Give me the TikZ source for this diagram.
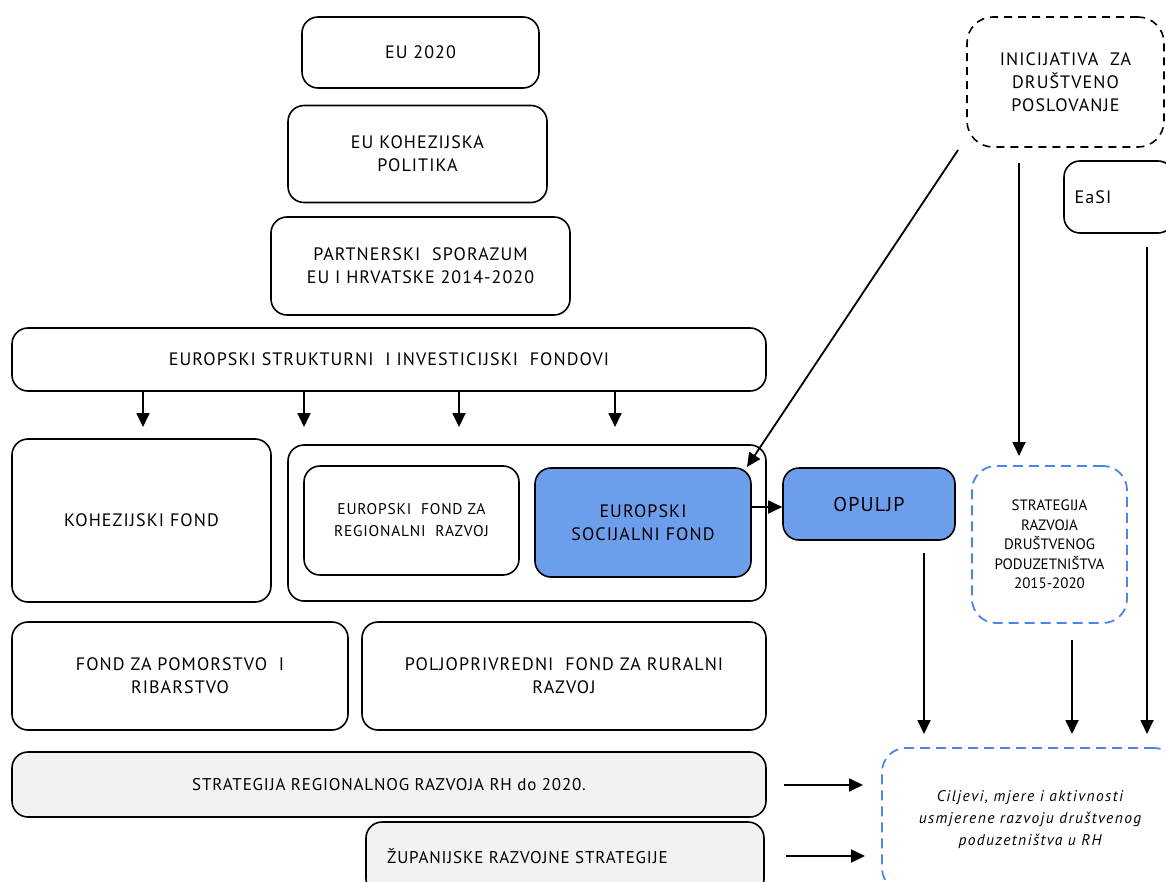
\documentclass[tikz,border=0pt]{standalone}
\usepackage{fontspec}
\setmainfont{PT Sans}
\newfontfamily\fwide[LetterSpace=6]{PT Sans}
\newfontfamily\fmed[LetterSpace=5]{PT Sans}
\newfontfamily\fital[LetterSpace=9]{PT Sans Italic}
\usetikzlibrary{arrows.meta,calc}
\definecolor{bluefill}{HTML}{6D9EEB}
\definecolor{bluedash}{HTML}{4A86E8}
\definecolor{grayfill}{HTML}{F2F2F2}
\begin{document}
\begin{tikzpicture}[x=1pt,y=-1pt,
  box/.style={draw=black,line width=1.6pt,rounded corners=16pt,inner sep=4pt,align=center,
    font=\fwide\fontsize{18}{23}\selectfont},
  smallbox/.style={box,font=\fmed\fontsize{15.5}{22}\selectfont},
  bluebox/.style={box,fill=bluefill},
  graybox/.style={box,fill=grayfill},
  bdash/.style={draw=bluedash,line width=1.8pt,dash pattern=on 10pt off 6pt,rounded corners=24pt,inner sep=4pt,align=center},
  kdash/.style={box,dash pattern=on 8pt off 6pt,rounded corners=26pt},
  arr/.style={line width=1.8pt,-{Triangle[length=14pt,width=13pt]}},
  txt/.style={inner sep=0pt,align=center,font=\fwide\fontsize{18}{23}\selectfont}
]
\useasboundingbox (0,0) rectangle (1166,882);
\clip (0,0) rectangle (1166,882);
\fill[white] (0,0) rectangle (1166,882);

\node[box,minimum width=237pt,minimum height=71pt] (eu) at (420.5,52.5) {EU 2020};
\node[box,minimum width=259pt,minimum height=97pt] (koh) at (417.5,154) {EU KOHEZIJSKA\\POLITIKA};
\node[box,minimum width=299pt,minimum height=98pt] (par) at (420.5,266) {PARTNERSKI \ SPORAZUM\\EU I HRVATSKE 2014-2020};
\node[box,minimum width=754pt,minimum height=63pt] (esif) at (389,359.5) {EUROPSKI STRUKTURNI \ I INVESTICIJSKI \ FONDOVI};

\node[box,minimum width=259pt,minimum height=163pt] (kf) at (141.5,520.5) {KOHEZIJSKI FOND};
\node[box,minimum width=478pt,minimum height=156pt] (cont) at (527,523) {};
\node[smallbox,minimum width=215pt,minimum height=109pt] (efrr) at (411.5,520.5) {EUROPSKI \ FOND ZA\\REGIONALNI \ RAZVOJ};
\node[bluebox,minimum width=216pt,minimum height=109pt] (esf) at (643,522.5) {EUROPSKI\\SOCIJALNI FOND};
\node[bluebox,minimum width=172pt,minimum height=72pt,font=\fwide\fontsize{20}{24}\selectfont] (op) at (869,504) {OPULJP};

\node[kdash,minimum width=197pt,minimum height=130pt] (ini) at (1065.5,82) {INICIJATIVA \ ZA\\DRUŠTVENO\\POSLOVANJE};
\node[box,minimum width=110pt,minimum height=72pt] (easi) at (1119,197) {};
\node[txt] (easit) at (1093,197) {EaSI};

\node[bdash,minimum width=155pt,minimum height=157pt,font=\fontsize{15}{19.5}\selectfont] (str) at (1049.5,544.5) {STRATEGIJA\\RAZVOJA\\DRUŠTVENOG\\PODUZETNIŠTVA\\2015-2020};

\node[box,minimum width=336pt,minimum height=108pt] (pom) at (180,676) {FOND ZA POMORSTVO \ I\\RIBARSTVO};
\node[box,minimum width=404pt,minimum height=108pt] (pol) at (564,676) {POLJOPRIVREDNI \ FOND ZA RURALNI\\RAZVOJ};

\node[graybox,minimum width=754pt,minimum height=65pt,font=\fmed\fontsize{17}{22}\selectfont] (srr) at (389,784.5) {STRATEGIJA REGIONALNOG RAZVOJA RH do 2020.};
\node[graybox,minimum width=398pt,minimum height=73pt] (zup) at (565,858.5) {};
\node[txt,anchor=west,font=\fmed\fontsize{17}{22}\selectfont] (zupt) at (387,856) {ŽUPANIJSKE RAZVOJNE STRATEGIJE};

\node[bdash,minimum width=296pt,minimum height=144pt,font=\fital\fontsize{15.5}{22}\selectfont] (cil) at (1030,820) {Ciljevi, mjere i aktivnosti\\usmjerene razvoju društvenog\\poduzetništva u RH};

% arrows from ESIF
\foreach \x/\n in {143/a,304/b,459/c,615/d}{
  \coordinate (s\n) at (esif.south -| \x,0);
  \coordinate (t\n) at (\x,427);
  \draw[arr] (s\n) -- (t\n);
}
\draw[arr] (esf.east |- 0,507) -- (op.west |- 0,507);

\coordinate (iniA) at (958,150);
\coordinate (iniAt) at (747,467);
\draw[arr] (iniA) -- (iniAt);
\coordinate (iniB) at (1019,163);
\coordinate (iniBt) at (1019,456);
\draw[arr] (iniB) -- (iniBt);

\coordinate (easiA) at (1147,247);
\coordinate (easiAt) at (1147,734);
\draw[arr] (easiA) -- (easiAt);
\coordinate (opA) at (924,553);
\coordinate (opAt) at (924,734);
\draw[arr] (opA) -- (opAt);
\coordinate (strA) at (1072,640);
\coordinate (strAt) at (1072,734);
\draw[arr] (strA) -- (strAt);

\coordinate (srrA) at (784,785);
\coordinate (srrAt) at (863,785);
\draw[arr] (srrA) -- (srrAt);
\coordinate (zupA) at (786,856);
\coordinate (zupAt) at (865,856);
\draw[arr] (zupA) -- (zupAt);
\end{tikzpicture}
\end{document}
